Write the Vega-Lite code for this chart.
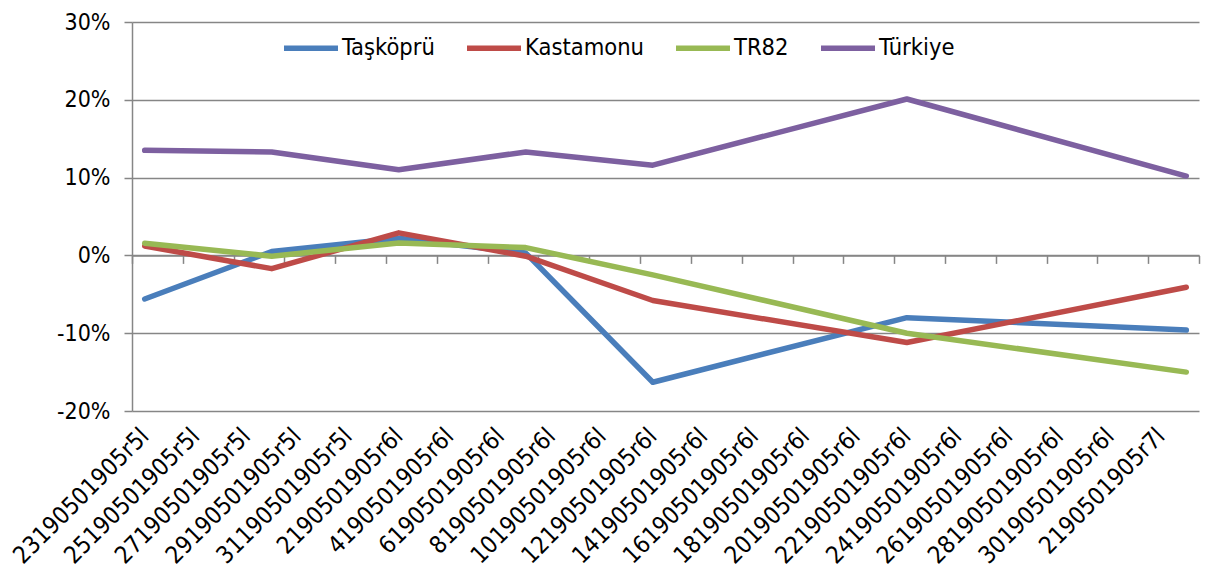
{
  "$schema": "https://vega.github.io/schema/vega-lite/v6.json",
  "width": 1067,
  "height": 389,
  "autosize": "none",
  "padding": {"left": 132, "top": 22, "right": 20, "bottom": 159},
  "background": "white",
  "config": {
    "view": {"stroke": null},
    "font": "DejaVu Sans Condensed",
    "axis": {"labelFont": "DejaVu Sans Condensed", "labelColor": "#000000"},
    "legend": {"labelFont": "DejaVu Sans Condensed", "labelColor": "#000000"}
  },
  "data": {
    "values": [
      {"year": 1970, "series": "Taşköprü", "value": -0.056},
      {"year": 1975, "series": "Taşköprü", "value": 0.005},
      {"year": 1980, "series": "Taşköprü", "value": 0.022},
      {"year": 1985, "series": "Taşköprü", "value": 0.003},
      {"year": 1990, "series": "Taşköprü", "value": -0.163},
      {"year": 2000, "series": "Taşköprü", "value": -0.080},
      {"year": 2011, "series": "Taşköprü", "value": -0.096},
      {"year": 1970, "series": "Kastamonu", "value": 0.012},
      {"year": 1975, "series": "Kastamonu", "value": -0.017},
      {"year": 1980, "series": "Kastamonu", "value": 0.029},
      {"year": 1985, "series": "Kastamonu", "value": -0.001},
      {"year": 1990, "series": "Kastamonu", "value": -0.058},
      {"year": 2000, "series": "Kastamonu", "value": -0.112},
      {"year": 2011, "series": "Kastamonu", "value": -0.041},
      {"year": 1970, "series": "TR82", "value": 0.0155},
      {"year": 1975, "series": "TR82", "value": -0.001},
      {"year": 1980, "series": "TR82", "value": 0.016},
      {"year": 1985, "series": "TR82", "value": 0.010},
      {"year": 1990, "series": "TR82", "value": -0.025},
      {"year": 2000, "series": "TR82", "value": -0.100},
      {"year": 2011, "series": "TR82", "value": -0.150},
      {"year": 1970, "series": "Türkiye", "value": 0.135},
      {"year": 1975, "series": "Türkiye", "value": 0.133},
      {"year": 1980, "series": "Türkiye", "value": 0.110},
      {"year": 1985, "series": "Türkiye", "value": 0.133},
      {"year": 1990, "series": "Türkiye", "value": 0.116},
      {"year": 2000, "series": "Türkiye", "value": 0.201},
      {"year": 2011, "series": "Türkiye", "value": 0.102}
    ]
  },
  "mark": {"type": "line", "strokeWidth": 5.5, "strokeCap": "round", "strokeJoin": "round"},
  "encoding": {
    "x": {
      "field": "year",
      "type": "quantitative",
      "scale": {"domain": [1969.5, 2011.5], "nice": false, "zero": false},
      "axis": {
        "orient": "bottom",
        "offset": -155.6,
        "values": [1969.5, 1970, 1971.5, 1972, 1973.5, 1974, 1975.5, 1976, 1977.5, 1978, 1979.5, 1980, 1981.5, 1982, 1983.5, 1984, 1985.5, 1986, 1987.5, 1988, 1989.5, 1990, 1991.5, 1992, 1993.5, 1994, 1995.5, 1996, 1997.5, 1998, 1999.5, 2000, 2001.5, 2002, 2003.5, 2004, 2005.5, 2006, 2007.5, 2008, 2009.5, 2010, 2011.5],
        "labelExpr": "datum.value % 2 == 0 ? ['23190501905r5l','25190501905r5l','27190501905r5l','29190501905r5l','31190501905r5l','2190501905r6l','4190501905r6l','6190501905r6l','8190501905r6l','10190501905r6l','12190501905r6l','14190501905r6l','16190501905r6l','18190501905r6l','20190501905r6l','22190501905r6l','24190501905r6l','26190501905r6l','28190501905r6l','30190501905r6l','2190501905r7l'][(datum.value-1970)/2] : ''",
        "labelAngle": -45,
        "labelAlign": "right",
        "labelBaseline": "middle",
        "labelPadding": 169,
        "labelFontSize": 24,
        "labelOverlap": false,
        "labelBound": false,
        "labelFlush": false,
        "domain": true,
        "domainColor": "#868686",
        "domainWidth": 1.5,
        "ticks": true,
        "tickSize": 8,
        "tickColor": {"condition": {"test": "datum.value % 2 != 0", "value": "#868686"}, "value": "transparent"},
        "tickWidth": 1.5,
        "grid": false,
        "title": null
      }
    },
    "y": {
      "field": "value",
      "type": "quantitative",
      "scale": {"domain": [-0.2, 0.3], "nice": false, "zero": false},
      "axis": {
        "values": [-0.2, -0.1, 0, 0.1, 0.2, 0.3],
        "labelExpr": "round(datum.value*100) + '%'",
        "labelFontSize": 23,
        "labelPadding": 14,
        "labelBaseline": "middle",
        "domain": true,
        "domainColor": "#868686",
        "domainWidth": 1.5,
        "ticks": true,
        "tickSize": 8,
        "tickColor": "#868686",
        "tickWidth": 1.5,
        "grid": true,
        "gridColor": "#868686",
        "gridWidth": 1.5,
        "title": null
      }
    },
    "color": {
      "field": "series",
      "type": "nominal",
      "scale": {
        "domain": ["Taşköprü", "Kastamonu", "TR82", "Türkiye"],
        "range": ["#4A7EBB", "#BE4B48", "#98B954", "#7D60A0"]
      },
      "legend": {
        "orient": "none",
        "legendX": 149,
        "legendY": -4,
        "direction": "horizontal",
        "title": null,
        "labelFontSize": 23.5,
        "symbolType": "stroke",
        "symbolSize": 2916,
        "symbolStrokeWidth": 5.5,
        "columnPadding": 21,
        "labelOffset": 1
      }
    }
  }
}
